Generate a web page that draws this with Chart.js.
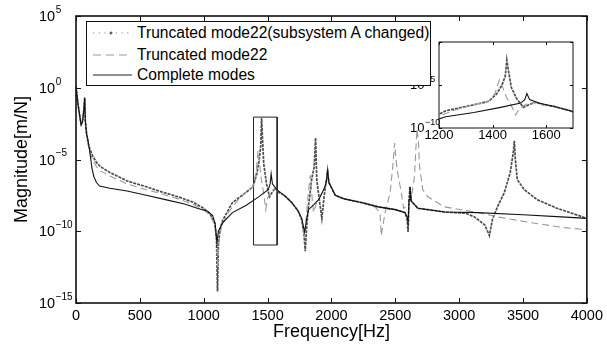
<!DOCTYPE html>
<html><head><meta charset="utf-8">
<script src="https://cdn.jsdelivr.net/npm/chart.js@4"></script>
<style>
html,body{margin:0;padding:0;background:#fff;}
#wrap{position:relative;width:607px;height:346px;overflow:hidden;background:#fff;}
#main{position:absolute;left:0;top:0;}
#inset{position:absolute;left:400px;top:30px;}
#legend{position:absolute;left:86px;top:21px;width:343px;height:63px;border:1px solid #111;background:#fff;font-family:"Liberation Sans",Arial,sans-serif;font-size:15.6px;color:#000;}
.row{position:absolute;left:0;height:20px;width:100%;}
.row svg{position:absolute;left:6px;top:5px;}
.row span{position:absolute;left:50px;top:0;line-height:20px;white-space:nowrap;}
</style></head>
<body><div id="wrap"><canvas id="main" width="607" height="346"></canvas><canvas id="inset" width="190" height="130"></canvas><div id="legend"></div></div>
<script>
const seriesNames = ['Truncated mode22(subsystem A changed)', 'Truncated mode22', 'Complete modes'];
const xTicks = [0, 500, 1000, 1500, 2000, 2500, 3000, 3500, 4000];
const yTickExps = [5, 0, -5, -10, -15];
const insetXTicks = [1200, 1400, 1600];
const insetYTickExps = [0, -5, -10];

// Truncated mode22 (subsystem A changed) - dotted
const freqChanged = [0,15,30,40,52,62,68,73,82,93,110,130,160,190,265,400,550,650,800,910,1000,1050,1085,1100,1108,1115,1130,1150,1225,1330,1385,1416,1435,1447,1453,1460,1470,1490,1515,1535,1560,1590,1630,1690,1740,1767,1785,1795,1805,1820,1845,1865,1876,1885,1905,1925,1940,1952,1962,1970,1980,2030,2100,2235,2366,2500,2575,2592,2600,2608,2615,2625,2677,2887,3050,3120,3200,3237,3260,3300,3354,3400,3424,3432,3440,3455,3510,3610,3766,3900,4000];
const magChanged = [1.26,7.9e-2,1e-2,2.5e-3,5e-3,3.2e-2,0.2,5e-3,7.9e-4,1.6e-4,5e-5,1.8e-5,6.3e-6,3.2e-6,1.26e-6,3.2e-7,1.26e-7,6.3e-8,2.5e-8,1.12e-8,4e-9,1.6e-9,4e-10,3.2e-11,6.3e-15,1.6e-11,1.6e-10,6.3e-10,1e-8,5e-8,1.26e-7,1e-6,1e-5,1e-4,7.9e-3,3.2e-4,5e-6,2.5e-7,2.5e-8,5e-8,1e-7,5e-8,3.2e-8,1e-8,2.5e-9,6.3e-10,6.3e-11,4e-12,1.6e-10,5e-9,4e-7,3.2e-6,3.2e-4,4e-7,1.6e-8,7.9e-10,1.6e-8,1.26e-7,4e-7,1.6e-6,2.5e-7,3.2e-8,1.8e-8,1e-8,5e-9,3.2e-9,2e-9,7.9e-10,8.9e-11,1.6e-8,1.26e-7,1.26e-8,4e-9,2.2e-9,1.8e-9,1e-9,2.8e-10,5e-11,6.3e-10,5e-9,5e-8,1.26e-6,3.2e-5,2e-4,1e-5,4e-7,7.9e-8,1.6e-8,4e-9,1.6e-9,7.9e-10];

// Truncated mode22 - dashed
const freqTrunc = [0,15,30,40,52,62,68,73,82,93,110,130,160,190,265,400,550,650,800,910,1000,1050,1090,1103,1110,1118,1140,1200,1260,1330,1385,1410,1425,1432,1450,1470,1486,1500,1530,1560,1590,1630,1690,1740,1767,1790,1805,1820,1835,1848,1860,1880,1900,1952,1962,1970,1980,2030,2100,2235,2340,2380,2390,2420,2460,2480,2495,2505,2520,2545,2565,2600,2630,2650,2665,2670,2680,2690,2715,2755,2885,3145,3300,3560,3820,4000];
const magTrunc = [1.26,7.9e-2,1e-2,2.5e-3,5e-3,3.2e-2,0.2,5e-3,7.9e-4,1.26e-4,3.2e-5,1e-5,3.2e-6,1.6e-6,7e-7,2e-7,7.9e-8,4.5e-8,1.8e-8,7.9e-9,3.2e-9,1.26e-9,2.5e-10,1e-11,2.5e-13,1.6e-11,2.5e-10,2.5e-9,1.26e-8,5e-8,1.26e-7,1.26e-6,4e-5,1.6e-5,5e-7,4e-8,3.2e-9,2e-8,6.3e-8,1e-7,5e-8,3.2e-8,1e-8,2.5e-9,7.9e-10,4e-11,1.6e-9,6.3e-8,7.9e-7,2.5e-8,2e-9,7.9e-9,1.6e-8,1.26e-7,4e-7,2e-6,2.5e-7,3.2e-8,1.8e-8,1e-8,5e-9,2e-9,5e-11,2e-9,5e-8,3.2e-6,1.4e-4,1e-5,1e-6,6.3e-8,4e-9,6.3e-9,4e-8,6.3e-7,2.5e-4,1.26e-3,2.5e-4,3.2e-6,7.9e-8,2.5e-8,5e-9,2e-9,1e-9,4e-10,1.8e-10,1.26e-10];

// Complete modes - solid
const freqComplete = [0,15,30,40,52,62,68,73,82,93,110,125,140,160,185,265,400,550,700,850,950,1030,1070,1090,1103,1115,1150,1225,1330,1430,1505,1520,1528,1538,1572,1630,1690,1740,1767,1790,1805,1820,1860,1900,1950,1962,1970,1980,2030,2100,2235,2366,2500,2575,2592,2600,2608,2615,2625,2677,2887,3145,3500,3800,4000];
const magComplete = [1.26,7.9e-2,1e-2,2.5e-3,5e-3,3.2e-2,0.2,5e-3,6.3e-4,2.5e-4,2.5e-5,2.5e-6,6.3e-7,2.5e-7,1.4e-7,1e-7,6.3e-8,3.2e-8,1.6e-8,7.9e-9,4e-9,2.5e-9,1.26e-9,3.2e-10,1.6e-11,1e-10,4e-10,2e-9,6.3e-9,2.5e-8,7.9e-8,2e-7,1e-6,2e-7,7.9e-8,3.2e-8,1e-8,2.5e-9,7.9e-10,8.9e-11,6.3e-10,3.2e-9,7e-9,1.6e-8,1.26e-7,4e-7,2e-6,2.5e-7,3.2e-8,1.8e-8,1e-8,5e-9,3.2e-9,2e-9,1e-9,4e-10,1.6e-8,1.26e-7,1.26e-8,4e-9,2.2e-9,2e-9,1.4e-9,1e-9,7.9e-10];

// zoom-region rectangle drawn on the main axes
const boxFreq = [1390, 1575, 1575, 1390, 1390];
const boxMag = [9e-3, 9e-3, 1.1e-11, 1.1e-11, 9e-3];

const FONT = '"Liberation Sans", Arial, Helvetica, sans-serif';
const pts = (f, m) => f.map((v, i) => ({x: v, y: m[i]}));

const frame = {
  id: 'frame',
  beforeDatasetsDraw(chart, args, o) {
    if (!o.fill) return;
    const a = chart.chartArea, ctx = chart.ctx;
    ctx.save(); ctx.fillStyle = '#fff';
    ctx.fillRect(a.left, a.top, a.right - a.left, a.bottom - a.top);
    ctx.restore();
  },
  afterDatasetsDraw(chart, args, o) {
    const {ctx, chartArea: a, scales: {x, y}} = chart;
    ctx.save();
    ctx.strokeStyle = '#111';
    ctx.lineWidth = 1;
    ctx.beginPath();
    o.xTicks.forEach(v => {
      const p = Math.round(x.getPixelForValue(v)) + 0.5;
      ctx.moveTo(p, a.bottom); ctx.lineTo(p, a.bottom - o.tick);
      ctx.moveTo(p, a.top); ctx.lineTo(p, a.top + o.tick);
    });
    o.yExps.forEach(e => {
      const p = Math.round(y.getPixelForValue(Math.pow(10, e))) + 0.5;
      ctx.moveTo(a.left, p); ctx.lineTo(a.left + o.tick, p);
      ctx.moveTo(a.right, p); ctx.lineTo(a.right - o.tick, p);
    });
    ctx.stroke();
    ctx.lineWidth = o.border;
    ctx.strokeRect(a.left, a.top, a.right - a.left, a.bottom - a.top);
    ctx.fillStyle = '#000';
    ctx.textBaseline = 'middle';
    ctx.textAlign = 'left';
    o.yExps.forEach(e => {
      const p = y.getPixelForValue(Math.pow(10, e));
      ctx.font = o.baseSize + 'px ' + FONT;
      ctx.fillText('10', o.labelX, p + o.baseDy);
      const w = ctx.measureText('10').width;
      ctx.font = o.expSize + 'px ' + FONT;
      ctx.fillText(String(e).replace('-', '\u2212'), o.labelX + w + 0.5, p + o.expDy);
    });
    ctx.restore();
  }
};

function makeDatasets(withBox) {
  const ds = [
    {label: seriesNames[2], data: pts(freqComplete, magComplete), borderColor: '#111', borderWidth: 1.1, pointRadius: 0},
    {label: seriesNames[1], data: pts(freqTrunc, magTrunc), borderColor: '#9a9a9a', borderWidth: 1.1, borderDash: [7, 4], pointRadius: 0},
    {label: seriesNames[0], data: pts(freqChanged, magChanged), borderColor: '#4d4d4d', borderWidth: 1.7, borderDash: [3, 1], pointRadius: 0}
  ];
  if (withBox) ds.push({label: 'zoom box', data: pts(boxFreq, boxMag), borderColor: '#222', borderWidth: 1, pointRadius: 0});
  return ds;
}

new Chart(document.getElementById('main'), {
  type: 'line',
  data: {datasets: makeDatasets(true)},
  options: {
    responsive: false, animation: false, devicePixelRatio: 1,
    layout: {padding: {top: 16, right: 17, left: 0, bottom: 0}},
    plugins: {legend: {display: false}, tooltip: {enabled: false},
      frame: {fill: false, xTicks: xTicks, yExps: yTickExps, tick: 5, border: 1.6, labelX: 39, baseSize: 14.5, expSize: 10, baseDy: 1, expDy: -6}},
    scales: {
      x: {type: 'linear', min: 0, max: 4000,
        afterFit: s => { s.height = 43; },
        afterBuildTicks: s => { s.ticks = xTicks.map(v => ({value: v})); },
        grid: {display: false, drawTicks: false}, border: {display: false},
        ticks: {font: {family: FONT, size: 14.5}, color: '#000', padding: 4, maxRotation: 0, autoSkip: false, callback: v => String(v)},
        title: {display: true, text: 'Frequency[Hz]', font: {family: FONT, size: 18}, color: '#000', padding: {top: 0, bottom: 3}}},
      y: {type: 'logarithmic', min: 1e-15, max: 1e5,
        afterFit: s => { s.width = 76; },
        afterBuildTicks: s => { s.ticks = yTickExps.map(e => ({value: Math.pow(10, e)})); },
        grid: {display: false, drawTicks: false}, border: {display: false},
        ticks: {display: false},
        title: {display: true, text: 'Magnitude[m/N]', font: {family: FONT, size: 18}, color: '#000', padding: {top: 11, bottom: 0}}}
    }
  },
  plugins: [frame]
});

new Chart(document.getElementById('inset'), {
  type: 'line',
  data: {datasets: makeDatasets(false)},
  options: {
    responsive: false, animation: false, devicePixelRatio: 1,
    layout: {padding: {top: 12, right: 17, left: 0, bottom: 0}},
    plugins: {legend: {display: false}, tooltip: {enabled: false},
      frame: {fill: true, xTicks: insetXTicks, yExps: insetYTickExps, tick: 3, border: 1, labelX: 10, baseSize: 13, expSize: 9, baseDy: 0, expDy: -5}},
    scales: {
      x: {type: 'linear', min: 1200, max: 1700,
        afterFit: s => { s.height = 32; },
        afterBuildTicks: s => { s.ticks = insetXTicks.map(v => ({value: v})); },
        grid: {display: false, drawTicks: false}, border: {display: false},
        ticks: {font: {family: FONT, size: 13}, color: '#000', padding: 0, maxRotation: 0, autoSkip: false, callback: v => String(v)}},
      y: {type: 'logarithmic', min: 1e-10, max: 1,
        afterFit: s => { s.width = 39; },
        afterBuildTicks: s => { s.ticks = insetYTickExps.map(e => ({value: Math.pow(10, e)})); },
        grid: {display: false, drawTicks: false}, border: {display: false},
        ticks: {display: false}}
    }
  },
  plugins: [frame]
});

// legend (drawn above the inset, as in the reference)
const legendStyles = [
  '<line x1="0" y1="5" x2="39" y2="5" stroke="#8c8c8c" stroke-width="1" stroke-dasharray="1.2,4.5"/><path d="M18 3.5v3M16.5 5h3" stroke="#333" stroke-width="1"/>',
  '<line x1="0" y1="5" x2="39" y2="5" stroke="#9a9a9a" stroke-width="1.1" stroke-dasharray="8,5"/>',
  '<line x1="0" y1="5" x2="39" y2="5" stroke="#222" stroke-width="1.2"/>'
];
const rowTops = [1.3, 23, 43];
document.getElementById('legend').innerHTML = seriesNames.map((n, i) =>
  '<div class="row" style="top:' + rowTops[i] + 'px"><svg width="40" height="10">' + legendStyles[i] + '</svg><span>' + n + '</span></div>'
).join('');
</script></body></html>
